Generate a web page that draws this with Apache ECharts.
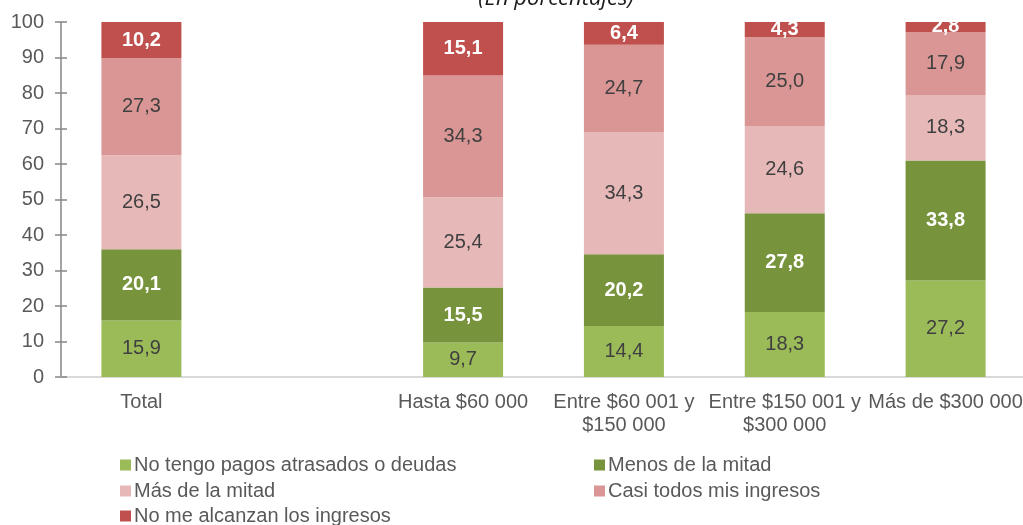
<!DOCTYPE html>
<html>
<head>
<meta charset="utf-8">
<script src="https://cdn.jsdelivr.net/npm/echarts@6/dist/echarts.min.js"></script>
<style>html,body{margin:0;padding:0;background:#fff;overflow:hidden;width:1023px;height:525px}#c{width:1040px;height:525px}</style>
</head>
<body>
<div id="c"></div>
<script>
const categories = ["Total", "", "Hasta $60 000", "Entre $60 001 y\n$150 000", "Entre $150 001 y\n$300 000", "Más de $300 000"];
const seriesNames = ["No tengo pagos atrasados o deudas", "Menos de la mitad", "Más de la mitad", "Casi todos mis ingresos", "No me alcanzan los ingresos"];
const noTengo = [15.9, null, 9.7, 14.4, 18.3, 27.2];
const menosMitad = [20.1, null, 15.5, 20.2, 27.8, 33.8];
const masMitad = [26.5, null, 25.4, 34.3, 24.6, 18.3];
const casiTodos = [27.3, null, 34.3, 24.7, 25.0, 17.9];
const noAlcanzan = [10.2, null, 15.1, 6.4, 4.3, 2.8];
const yTicks = [0, 100, 10];

const colors = ["#9BBB59", "#77933C", "#E6B9B8", "#D99694", "#C0504D"];
const boldWhite = [false, true, false, false, true];
const allData = [noTengo, menosMitad, masMitad, casiTodos, noAlcanzan];
const font = "Liberation Sans, Arial, sans-serif";

const chart = echarts.init(document.getElementById('c'), null, {renderer: 'canvas'});
const series = allData.map((d, i) => ({
  name: seriesNames[i],
  type: 'bar',
  stack: 'total',
  data: d,
  barWidth: 80,
  yAxisIndex: 0,
  itemStyle: {color: colors[i]},
  label: {
    show: true,
    position: 'inside',
    fontFamily: font,
    fontSize: 20,
    color: boldWhite[i] ? '#ffffff' : '#404040',
    fontWeight: boldWhite[i] ? 'bold' : 'normal',
    formatter: p => (p.value == null ? '' : p.value.toFixed(1).replace('.', ','))
  }
}));

const legendText = {fontFamily: font, fontSize: 20, color: '#595959', padding: [0, 0, 0, -2]};
// legend slots: [series index, left, top]
const legendSlots = [[0, 120, 455], [1, 594, 455], [2, 120, 481], [3, 594, 481], [4, 120, 506]];
const legends = legendSlots.map(([i, l, t]) => ({
  data: [seriesNames[i]],
  left: l, top: t,
  icon: 'rect', itemWidth: 11, itemHeight: 11,
  textStyle: legendText,
  padding: 0
}));

chart.setOption({
  animation: false,
  title: {
    text: '(En porcentajes)',
    left: 551,
    textAlign: 'center',
    top: -17,
    textStyle: {fontFamily: 'Open Sans, sans-serif', fontStyle: 'italic', fontWeight: 'normal', fontSize: 22, color: '#1a1a1a'}
  },
  grid: {left: 61, top: 22, right: 14, height: 355, containLabel: false},
  legend: legends,
  xAxis: {
    type: 'category',
    data: categories,
    axisLine: {lineStyle: {color: '#d9d9d9', width: 2}},
    axisTick: {show: false},
    axisLabel: {fontFamily: font, fontSize: 20, color: '#595959', margin: 14, lineHeight: 23, interval: 0}
  },
  yAxis: [
    {
      type: 'value',
      min: yTicks[0], max: yTicks[1], interval: yTicks[2],
      axisLine: {show: true, lineStyle: {color: '#868686', width: 1.5}},
      axisTick: {show: true, length: 6, lineStyle: {color: '#868686', width: 1.5}},
      splitLine: {show: false},
      axisLabel: {fontFamily: font, fontSize: 20, color: '#595959', margin: 17}
    },
    {
      type: 'value',
      position: 'left',
      min: yTicks[0], max: yTicks[1], interval: yTicks[2],
      axisLine: {show: false},
      axisTick: {show: true, inside: true, length: 6, lineStyle: {color: '#868686', width: 1.5}},
      splitLine: {show: false},
      axisLabel: {show: false}
    }
  ],
  series: series
});
</script>
</body>
</html>
